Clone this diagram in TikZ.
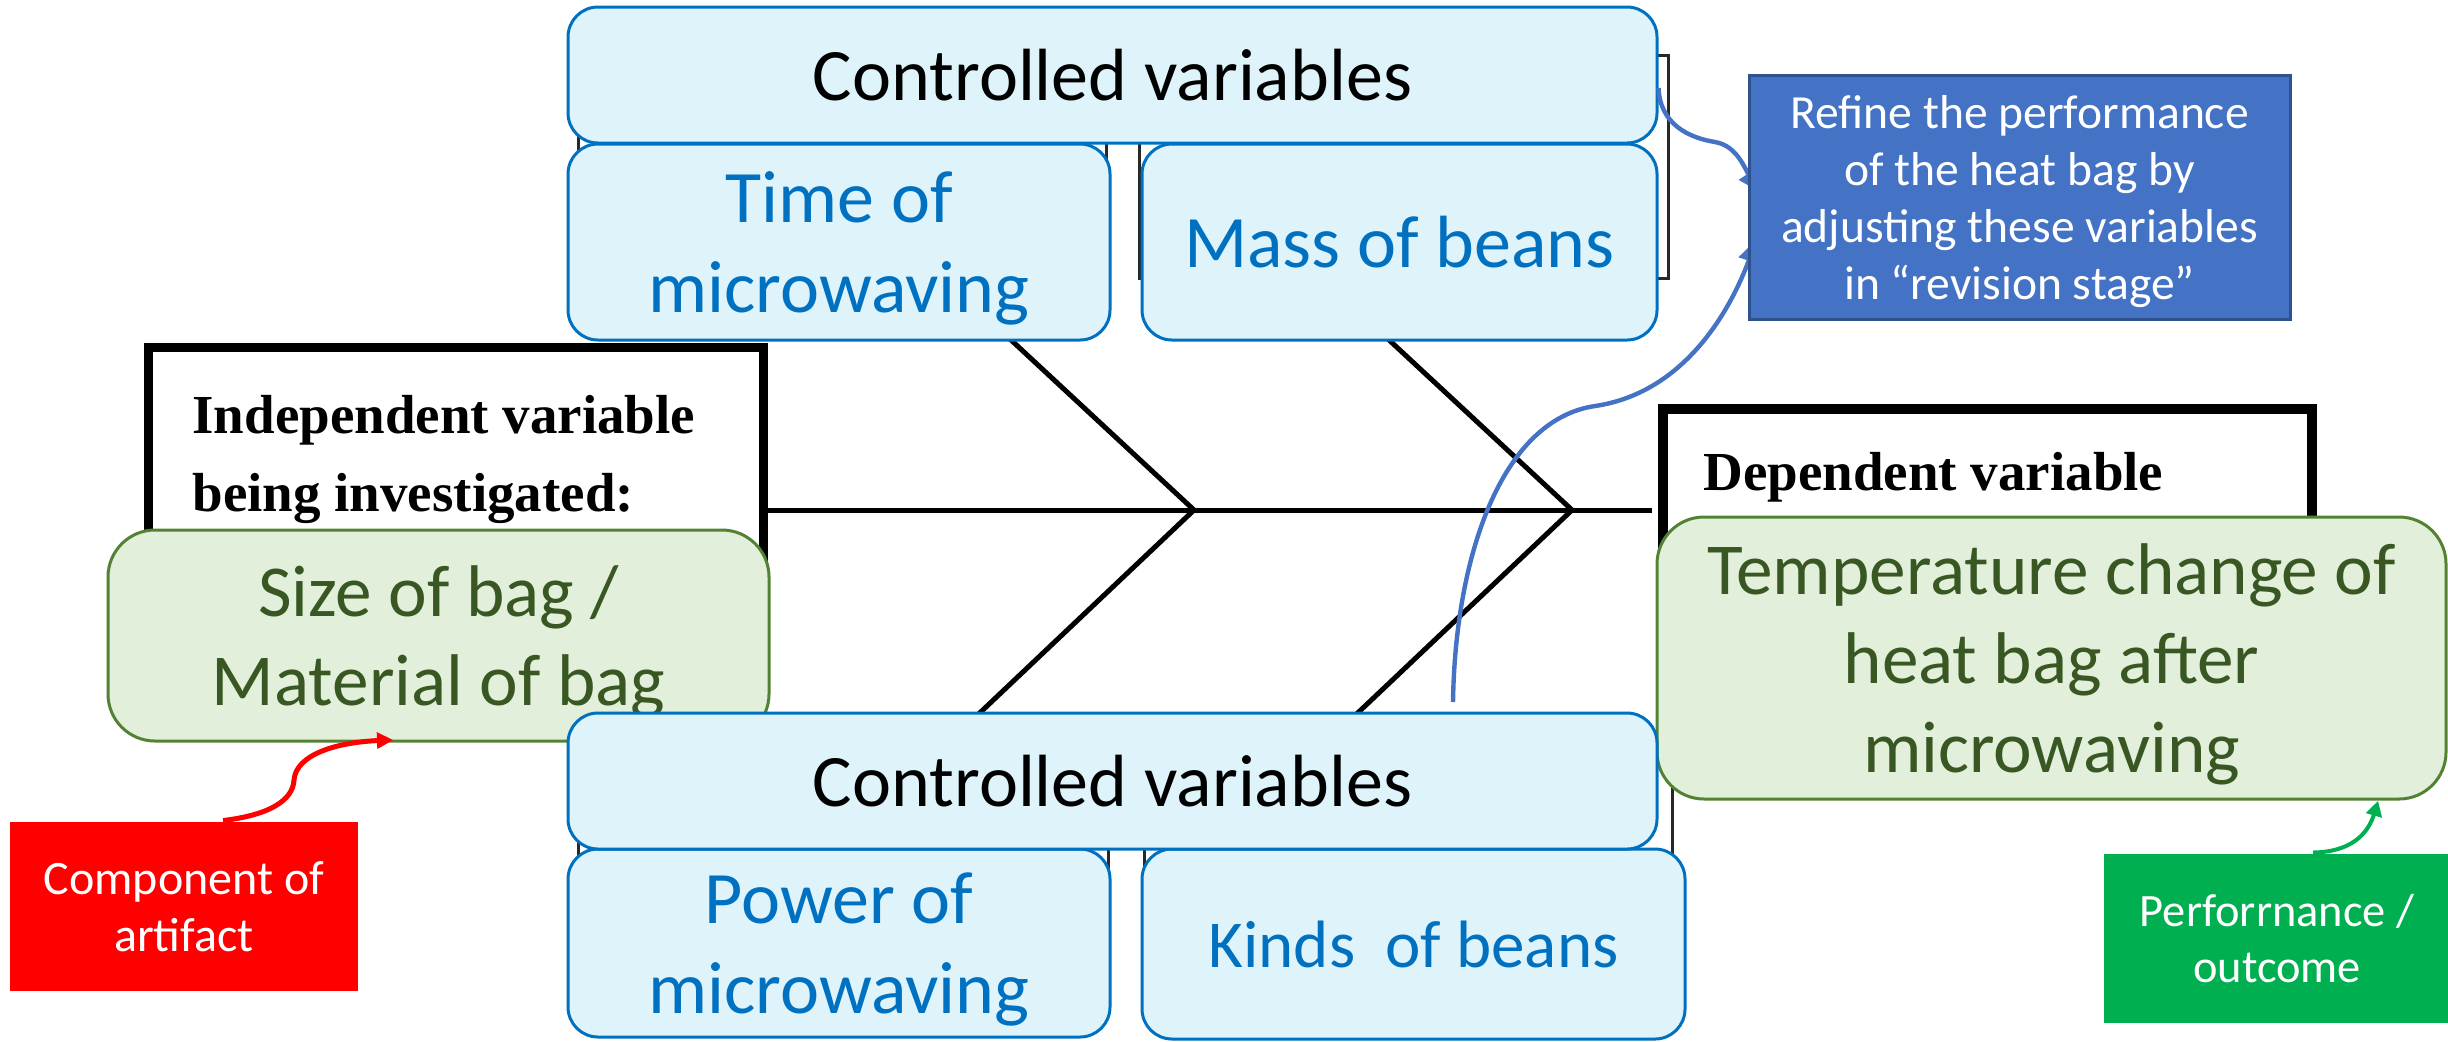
\documentclass[tikz,border=0pt]{standalone}
\usepackage{fontspec}
\setmainfont{Carlito}
\newfontfamily\timesfont{Liberation Serif}

\definecolor{varblue}{RGB}{0,112,192}
\definecolor{varfill}{RGB}{222,244,250}
\definecolor{artgreen}{RGB}{84,130,53}
\definecolor{artfill}{RGB}{226,239,218}
\definecolor{arttext}{RGB}{56,87,35}
\definecolor{refineblue}{RGB}{68,114,196}
\definecolor{refineedge}{RGB}{47,82,143}
\definecolor{perfgreen}{RGB}{0,176,80}
\definecolor{oldgrey}{RGB}{40,40,40}

\tikzset{every picture/.style={line width=0.75pt}}
\tikzset{
  varbox/.style={draw=varblue, fill=varfill, rounded corners=7.5pt, inner sep=0pt, align=center, text depth=0pt, text=varblue, font=\fontsize{18.5}{22.5}\selectfont},
  ctrlbox/.style={varbox, text=black, minimum width=272.25pt, minimum height=34pt},
  artbox/.style={draw=artgreen, fill=artfill, rounded corners=11.75pt, inner sep=0pt, align=center, text depth=0pt, text=arttext, font=\fontsize{18.3}{22.25}\selectfont},
  notebox/.style={inner sep=0pt, align=center, text=white, font=\fontsize{12}{14.25}\selectfont},
  oldbox/.style={draw=oldgrey, line width=0.75pt},
  oldlabel/.style={inner sep=0pt, anchor=base west, font=\timesfont\bfseries\fontsize{13.75}{19.5}\selectfont},
  bone/.style={line width=1.25pt},
  revline/.style={draw=refineblue, line width=1.1pt},
}

\begin{document}
\begin{tikzpicture}[x=0.25pt,y=0.25pt,yscale=-1,xscale=1]
        \useasboundingbox (0,0) rectangle (2448,1041);

        %Shape: Rectangle (old boxes of the fishbone)
        \draw [oldbox] (578,55) rectangle (1106,278);
        \draw [oldbox] (1139,55) rectangle (1668,278);
        \draw [oldbox] (578,760) rectangle (1108,985);
        \draw [oldbox] (1144,760) rectangle (1672,985);
        %Shape: Rectangle
        \draw [line width=2.25pt] (148,347) rectangle (763,700);
        %Shape: Rectangle
        \draw [line width=2.5pt] (1663,409) rectangle (2312,700);

        %Straight Lines
        \coordinate (apexA) at (1194,510);
        \coordinate (apexB) at (1572,510);
        \draw [bone] (763,510) -- (1652,510);
        \draw [bone] (968,300) -- (apexA) -- (930,760);
        \draw [bone] (1346,300) -- (apexB) -- (1308,760);

        % Text Node
        \draw (191,433) node (indeplabel) [oldlabel] {Independent variable};
        % Text Node
        \draw (191,511) node (indeplabelb) [oldlabel] {being investigated:};
        % Text Node
        \draw (1702,490) node (deplabel) [oldlabel] {Dependent variable};

        %Rounded Rect
        \draw (839,242) node (timebox) [varbox, minimum width=135.5pt, minimum height=49pt] {Time of\\microwaving};
        %Rounded Rect
        \draw (1399.5,242) node (massbox) [varbox, minimum width=128.75pt, minimum height=49pt] {Mass of beans};
        %Rounded Rect
        \draw (1112.5,75) node (ctrltop) [ctrlbox] {Controlled variables};

        %Rounded Rect
        \draw (438.5,635.5) node (sizebox) [artbox, minimum width=165.25pt, minimum height=52.75pt] {Size of bag /\\Material of bag};
        %Rounded Rect
        \draw (2051.5,658) node (tempbox) [artbox, minimum width=197.25pt, minimum height=70.5pt] {Temperature change of\\heat bag after\\microwaving};

        %Rounded Rect
        \draw (839,943) node (powerbox) [varbox, minimum width=135.5pt, minimum height=47pt] {Power of\\microwaving};
        %Rounded Rect
        \draw (1413.5,944) node (kindsbox) [varbox, minimum width=135.75pt, minimum height=47.5pt, font=\fontsize{16.75}{20}\selectfont] {Kinds~~of beans};
        %Rounded Rect
        \draw (1112.5,781) node (ctrlbot) [ctrlbox] {Controlled variables};

        %Curve Lines
        \coordinate (revtipA) at (1760,192);
        \coordinate (revtipB) at (1756,240);
        \coordinate (revstart) at (1453,702);
        \draw [revline, shorten >=4pt] ([yshift=3.25pt]ctrltop.east) .. controls (1660,125) and (1690,138) .. (1715,142) .. controls (1738,146) and (1745,170) .. (revtipA);
        \draw [shift={(revtipA)}, rotate=236] [fill=refineblue, line width=0.08] [draw opacity=0] (22,-11) -- (0,0) -- (22,11) -- cycle;
        %Curve Lines
        \draw [revline, shorten >=4pt] (revstart) .. controls (1455,560) and (1500,420) .. (1595,406) .. controls (1690,392) and (1735,300) .. (revtipB);
        \draw [shift={(revtipB)}, rotate=109] [fill=refineblue, line width=0.08] [draw opacity=0] (22,-11) -- (0,0) -- (22,11) -- cycle;

        %Shape: Rectangle
        \draw (2019.5,197) node (refine) [notebox, draw=refineedge, fill=refineblue, minimum width=135.25pt, minimum height=61pt, text depth=0pt, font=\fontsize{11.9}{14.25}\selectfont] {Refine the performance\\of the heat bag by\\adjusting these variables\\in “revision stage”};

        %Shape: Rectangle
        \draw (184,906.5) node (compbox) [notebox, fill=red, minimum width=87pt, minimum height=42.25pt] {Component of\\artifact};
        %Shape: Rectangle
        \draw (2277,938.5) node (perfbox) [notebox, fill=perfgreen, minimum width=86.5pt, minimum height=42.25pt, font=\fontsize{11.6}{14}\selectfont] {Perforrnance /\\outcome};

        %Curve Lines
        \coordinate (redtip) at (393,740);
        \draw [red, line width=1.25pt, shorten >=3pt] ([xshift=9.75pt]compbox.north) .. controls (270,815) and (293,800) .. (294,780) .. controls (296,755) and (335,742) .. (redtip);
        \draw [shift={(redtip)}, rotate=178] [fill=red, line width=0.08] [draw opacity=0] (16,-8.5) -- (0,0) -- (16,8.5) -- cycle;
        %Curve Lines
        \coordinate (greentip) at (2378,801);
        \draw [perfgreen, line width=1pt, shorten >=3pt] ([xshift=9pt]perfbox.north) .. controls (2350,852) and (2368,835) .. (greentip);
        \draw [shift={(greentip)}, rotate=106] [fill=perfgreen, line width=0.08] [draw opacity=0] (15,-8.5) -- (0,0) -- (15,8.5) -- cycle;

\end{tikzpicture}
\end{document}
